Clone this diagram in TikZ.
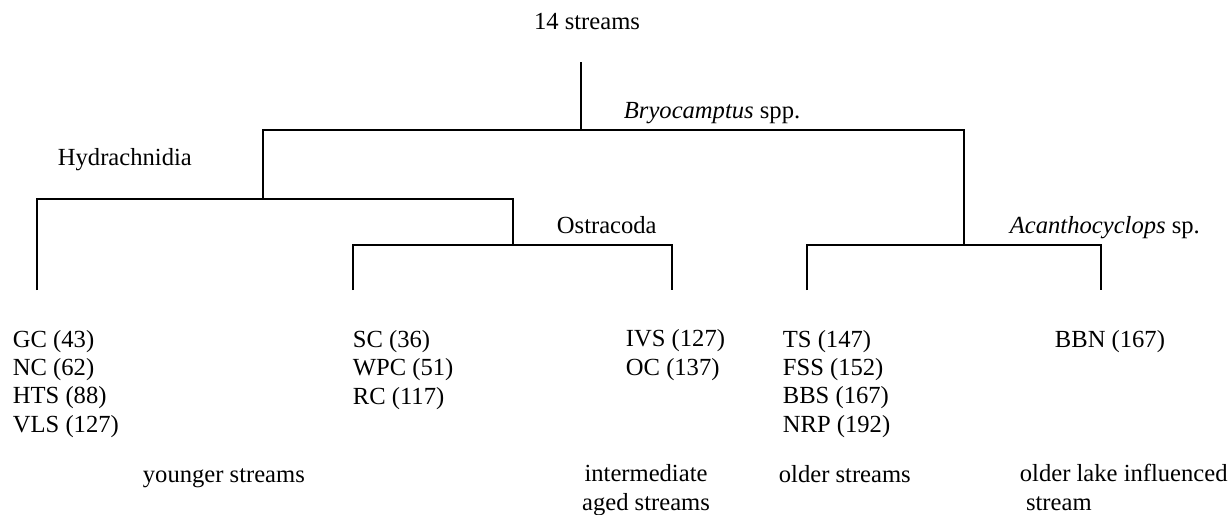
\documentclass[tikz,border=0pt]{standalone}
\usepackage{fontspec}
\setmainfont{Liberation Serif}
\begin{document}
\begin{tikzpicture}[x=0.4878pt, y=-0.4878pt, line width=0.9pt,
	every node/.style={inner sep=0pt, font=\fontsize{12pt}{13.8pt}\selectfont},
	lbl/.style={anchor=base west},
	lst/.style={anchor=base west, align=left}]
	% 0. picture frame (pixel grid, y downwards)
	\useasboundingbox (0,0) rectangle (1231,514);
	
	% 1. junctions of the tree
	\coordinate (root) at (581,62);
	\coordinate (n0) at (581,130);
	\coordinate (n1) at (263,199);
	\coordinate (n2) at (964,245);
	\coordinate (n3) at (513,245);
	\coordinate (lGC) at (37,290);
	\coordinate (lSC) at (353,290);
	\coordinate (lIVS) at (672,290);
	\coordinate (lTS) at (807,290);
	\coordinate (lBBN) at (1101,290);
	
	% 2. branches
	\draw (root) -- (n0);
	\draw (n1) |- (n0) -| (n2);
	\draw (lGC) |- (n1) -| (n3);
	\draw (lSC) |- (n3) -| (lIVS);
	\draw (lTS) |- (n2) -| (lBBN);
	
	% 3. taxa on the splits
	\node[anchor=base] (streams) at (587,29) {14 streams};
	\node[lbl] (bryo) at (623,118) {\textit{Bryocamptus} spp.};
	\node[lbl] (hydra) at (57,165) {Hydrachnidia};
	\node[lbl] (ostra) at (556,233) {Ostracoda};
	\node[lbl] (acanth) at (1009,233) {\textit{Acanthocyclops} sp.};
	
	% 4. stream groups (multi-line: y is the baseline of the last line)
	\node[lst] (gcList) at (12,432) {GC (43)\\NC (62)\\HTS (88)\\VLS (127)};
	\node[lst] (scList) at (352,404) {SC (36)\\WPC (51)\\RC (117)};
	\node[lst] (ivsList) at (625,375) {IVS (127)\\OC (137)};
	\node[lst] (tsList) at (782,432) {TS (147)\\FSS (152)\\BBS (167)\\NRP (192)};
	\node[lbl] (bbn) at (1054,347) {BBN (167)};
	
	% 5. age classes
	\node[lbl] (younger) at (142,482) {younger streams};
	\node[anchor=base, align=center] (intermediate) at (646,510) {intermediate\\aged streams};
	\node[lbl] (older) at (778,482) {older streams};
	\node[lst] (lake) at (1019,510) {older lake influenced\\\hspace*{3pt}stream};
\end{tikzpicture}
\end{document}
